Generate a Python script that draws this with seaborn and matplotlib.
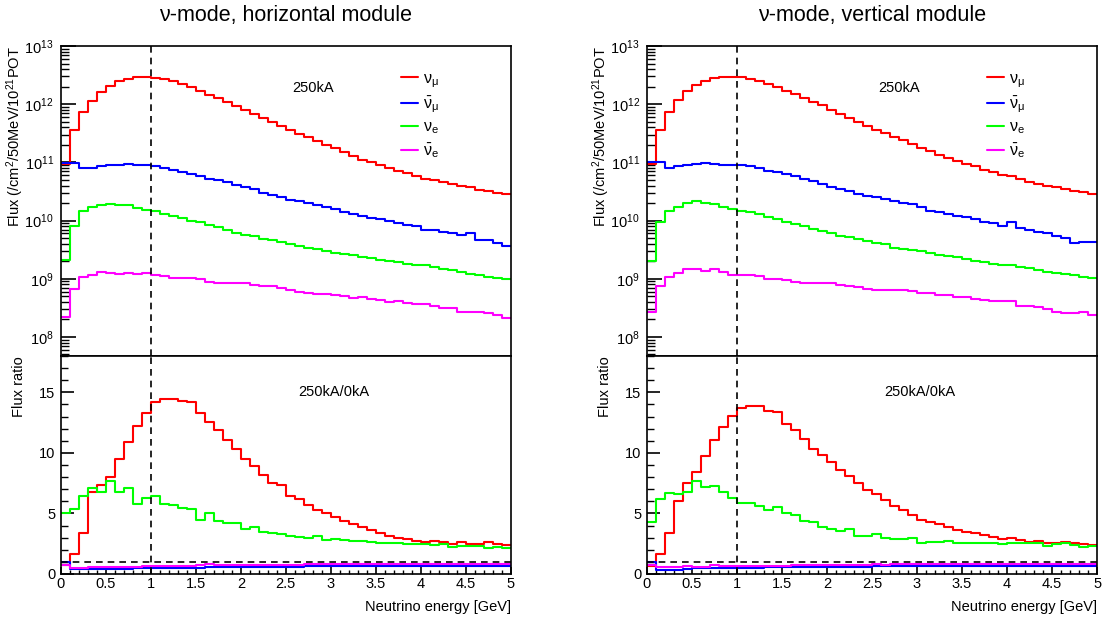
import numpy as np
import pandas as pd
import seaborn as sns
import matplotlib.pyplot as plt
from matplotlib.ticker import (MultipleLocator, LogLocator, LogFormatterMathtext,
                               FormatStrFormatter, NullFormatter)

# 50 energy bins of 0.1 GeV
bin_edges = np.linspace(0, 5, 51)
bin_centers = 0.5 * (bin_edges[:-1] + bin_edges[1:])

flavour_labels = [r'$\nu_{\mu}$', r'$\bar{\nu}_{\mu}$', r'$\nu_{e}$', r'$\bar{\nu}_{e}$']
flavour_colors = ['#ff0000', '#0000ff', '#00ff00', '#ff00ff']

# log10(flux), horizontal module
hor_numu_log = [10.98, 11.55, 11.86, 12.06, 12.21, 12.31, 12.39, 12.43, 12.46, 12.46,
                12.45, 12.43, 12.39, 12.34, 12.29, 12.23, 12.16, 12.10, 12.04, 11.97,
                11.90, 11.83, 11.76, 11.69, 11.62, 11.55, 11.49, 11.43, 11.37, 11.30,
                11.24, 11.18, 11.11, 11.04, 11.00, 10.95, 10.90, 10.85, 10.82, 10.76,
                10.72, 10.69, 10.66, 10.62, 10.59, 10.58, 10.53, 10.50, 10.47, 10.46]
hor_numubar_log = [10.99, 10.99, 10.90, 10.91, 10.93, 10.95, 10.96, 10.97, 10.96, 10.95,
                   10.93, 10.90, 10.87, 10.83, 10.80, 10.76, 10.72, 10.69, 10.66, 10.61,
                   10.58, 10.54, 10.48, 10.44, 10.40, 10.36, 10.34, 10.30, 10.27, 10.24,
                   10.20, 10.14, 10.11, 10.08, 10.04, 10.02, 9.99, 9.96, 9.93, 9.90,
                   9.84, 9.83, 9.80, 9.78, 9.75, 9.78, 9.66, 9.66, 9.62, 9.57]
hor_nue_log = [9.33, 9.91, 10.16, 10.24, 10.27, 10.28, 10.27, 10.26, 10.22, 10.19,
               10.16, 10.12, 10.08, 10.04, 10.00, 9.97, 9.93, 9.89, 9.84, 9.79,
               9.75, 9.73, 9.68, 9.67, 9.63, 9.59, 9.56, 9.53, 9.51, 9.48,
               9.44, 9.43, 9.40, 9.37, 9.35, 9.33, 9.31, 9.29, 9.26, 9.23,
               9.23, 9.20, 9.17, 9.15, 9.12, 9.08, 9.06, 9.03, 9.02, 8.99]
hor_nuebar_log = [8.35, 8.83, 9.03, 9.07, 9.12, 9.10, 9.08, 9.10, 9.08, 9.10,
                  9.06, 9.04, 9.02, 9.02, 9.02, 8.99, 8.94, 8.93, 8.92, 8.92,
                  8.92, 8.89, 8.87, 8.87, 8.84, 8.80, 8.77, 8.76, 8.74, 8.73,
                  8.72, 8.70, 8.67, 8.68, 8.66, 8.63, 8.60, 8.62, 8.59, 8.56,
                  8.56, 8.53, 8.50, 8.50, 8.43, 8.43, 8.43, 8.41, 8.37, 8.32]

# log10(flux), vertical module
ver_numu_log = [10.98, 11.56, 11.87, 12.07, 12.23, 12.33, 12.40, 12.45, 12.46, 12.47,
                12.46, 12.44, 12.39, 12.34, 12.29, 12.23, 12.17, 12.10, 12.04, 11.98,
                11.90, 11.83, 11.76, 11.70, 11.63, 11.56, 11.51, 11.44, 11.38, 11.31,
                11.24, 11.19, 11.13, 11.07, 11.02, 10.97, 10.93, 10.87, 10.83, 10.79,
                10.76, 10.72, 10.67, 10.63, 10.60, 10.57, 10.54, 10.51, 10.49, 10.46]
ver_numubar_log = [11.00, 11.00, 10.91, 10.94, 10.95, 10.98, 10.99, 10.98, 10.96, 10.95,
                   10.95, 10.93, 10.90, 10.86, 10.83, 10.80, 10.76, 10.72, 10.68, 10.62,
                   10.58, 10.54, 10.50, 10.46, 10.43, 10.40, 10.37, 10.33, 10.30, 10.28,
                   10.24, 10.17, 10.15, 10.12, 10.08, 10.06, 10.03, 9.97, 9.95, 9.90,
                   9.98, 9.87, 9.83, 9.80, 9.79, 9.73, 9.70, 9.62, 9.64, 9.63]
ver_nue_log = [9.30, 9.97, 10.17, 10.24, 10.30, 10.33, 10.30, 10.29, 10.24, 10.20,
               10.17, 10.14, 10.11, 10.06, 10.02, 9.98, 9.94, 9.90, 9.86, 9.82,
               9.78, 9.74, 9.71, 9.68, 9.65, 9.62, 9.59, 9.53, 9.51, 9.50,
               9.48, 9.45, 9.40, 9.39, 9.37, 9.34, 9.31, 9.29, 9.26, 9.24,
               9.23, 9.20, 9.18, 9.15, 9.12, 9.10, 9.08, 9.06, 9.03, 9.02]
ver_nuebar_log = [8.43, 8.87, 9.03, 9.10, 9.17, 9.16, 9.14, 9.16, 9.11, 9.06,
                  9.06, 9.06, 9.04, 9.00, 9.00, 8.97, 8.95, 8.93, 8.93, 8.92,
                  8.92, 8.90, 8.88, 8.86, 8.82, 8.80, 8.80, 8.81, 8.80, 8.79,
                  8.76, 8.75, 8.72, 8.72, 8.69, 8.68, 8.66, 8.64, 8.62, 8.62,
                  8.62, 8.53, 8.53, 8.52, 8.48, 8.43, 8.41, 8.41, 8.43, 8.37]

# flux ratio 250kA/0kA, horizontal module
hor_numu_ratio = [0.75, 1.63, 3.36, 6.81, 7.36, 8.05, 9.51, 10.86, 12.24, 13.29,
                  14.17, 14.45, 14.45, 14.31, 14.17, 13.29, 12.54, 11.86, 11.08, 10.34,
                  9.51, 8.93, 8.19, 7.50, 7.36, 6.48, 6.20, 5.71, 5.29, 5.02,
                  4.74, 4.38, 4.11, 3.92, 3.64, 3.36, 3.17, 3.01, 2.89, 2.76,
                  2.67, 2.76, 2.67, 2.45, 2.62, 2.45, 2.45, 2.62, 2.45, 2.40]
hor_numubar_ratio = [0.97, 0.40, 0.40, 0.41, 0.42, 0.43, 0.44, 0.45, 0.46, 0.47,
                     0.48, 0.49, 0.50, 0.51, 0.52, 0.53, 0.54, 0.55, 0.56, 0.57,
                     0.58, 0.58, 0.59, 0.60, 0.60, 0.61, 0.61, 0.62, 0.62, 0.63,
                     0.63, 0.63, 0.64, 0.64, 0.64, 0.65, 0.64, 0.65, 0.65, 0.66,
                     0.65, 0.66, 0.66, 0.67, 0.66, 0.67, 0.62, 0.67, 0.67, 0.68]
hor_nue_ratio = [5.07, 5.35, 6.48, 7.06, 6.73, 7.72, 6.73, 7.09, 5.79, 6.26,
                 6.40, 5.79, 5.71, 5.49, 5.38, 4.47, 5.07, 4.41, 4.19, 4.19,
                 3.72, 3.92, 3.50, 3.42, 3.28, 3.17, 3.09, 2.95, 3.14, 2.81,
                 2.87, 2.81, 2.76, 2.73, 2.62, 2.59, 2.59, 2.54, 2.48, 2.45,
                 2.45, 2.40, 2.45, 2.26, 2.32, 2.34, 2.32, 2.12, 2.26, 2.18]
hor_nuebar_ratio = [0.74, 0.52, 0.53, 0.55, 0.56, 0.58, 0.58, 0.60, 0.61, 0.62,
                    0.63, 0.64, 0.66, 0.67, 0.68, 0.72, 0.80, 0.74, 0.74, 0.75,
                    0.76, 0.76, 0.77, 0.77, 0.78, 0.78, 0.78, 0.79, 0.79, 0.80,
                    0.79, 0.80, 0.80, 0.81, 0.80, 0.81, 0.81, 0.82, 0.81, 0.82,
                    0.82, 0.82, 0.83, 0.82, 0.83, 0.83, 0.84, 0.83, 0.84, 0.84]

# flux ratio 250kA/0kA, vertical module
ver_numu_ratio = [0.70, 1.63, 3.36, 6.04, 7.55, 8.41, 9.76, 11.08, 12.10, 13.01,
                  13.70, 13.84, 13.84, 13.48, 13.40, 12.41, 11.91, 11.14, 10.34, 9.84,
                  9.24, 8.55, 8.11, 7.55, 6.95, 6.62, 6.07, 5.62, 5.29, 4.88,
                  4.47, 4.27, 4.14, 3.92, 3.64, 3.50, 3.36, 3.23, 3.09, 2.87,
                  2.95, 2.81, 2.67, 2.76, 2.59, 2.54, 2.67, 2.54, 2.48, 2.40]
ver_numubar_ratio = [1.00, 0.35, 0.33, 0.36, 0.45, 0.47, 0.48, 0.49, 0.50, 0.51,
                     0.52, 0.52, 0.53, 0.54, 0.55, 0.55, 0.56, 0.57, 0.58, 0.59,
                     0.60, 0.60, 0.60, 0.61, 0.61, 0.62, 0.62, 0.63, 0.62, 0.63,
                     0.63, 0.64, 0.64, 0.65, 0.64, 0.65, 0.65, 0.66, 0.65, 0.66,
                     0.70, 0.66, 0.67, 0.66, 0.67, 0.68, 0.67, 0.66, 0.68, 0.68]
ver_nue_ratio = [4.27, 6.20, 6.67, 6.59, 6.73, 7.69, 7.17, 7.28, 6.81, 6.31,
                 5.85, 5.85, 5.62, 5.29, 5.51, 5.07, 4.88, 4.41, 4.33, 3.92,
                 3.69, 3.56, 3.69, 3.17, 3.14, 3.31, 2.95, 2.87, 2.87, 3.01,
                 2.59, 2.67, 2.67, 2.73, 2.54, 2.59, 2.59, 2.59, 2.54, 2.48,
                 2.54, 2.59, 2.59, 2.54, 2.34, 2.45, 2.59, 2.40, 2.21, 2.34]
ver_nuebar_ratio = [0.75, 0.55, 0.55, 0.56, 0.70, 0.60, 0.61, 0.75, 0.63, 0.64,
                    0.66, 0.67, 0.68, 0.69, 0.70, 0.70, 0.71, 0.72, 0.73, 0.74,
                    0.78, 0.75, 0.76, 0.77, 0.78, 0.79, 0.77, 0.79, 0.80, 0.80,
                    0.79, 0.81, 0.80, 0.81, 0.82, 0.81, 0.82, 0.83, 0.82, 0.82,
                    0.85, 0.83, 0.83, 0.84, 0.83, 0.84, 0.85, 0.84, 0.85, 0.85]

sns.set_style('ticks')
plt.rcParams['font.family'] = ['Liberation Sans', 'DejaVu Sans']
plt.rcParams['mathtext.fontset'] = 'custom'
plt.rcParams['mathtext.rm'] = 'Liberation Sans'
plt.rcParams['mathtext.it'] = 'Liberation Sans:italic'
plt.rcParams['mathtext.bf'] = 'Liberation Sans:bold'
plt.rcParams['mathtext.default'] = 'regular'
plt.rcParams['axes.linewidth'] = 1.2
for key in ['text.color', 'axes.labelcolor', 'axes.edgecolor', 'xtick.color', 'ytick.color']:
    plt.rcParams[key] = 'black'

fig = plt.figure(figsize=(11.08, 6.2), dpi=100)

dash = (0, (4, 3))


def step_hist(ax, vals, color):
    df = pd.DataFrame({'energy': bin_centers, 'value': vals})
    sns.histplot(data=df, x='energy', weights='value', binwidth=0.1, binrange=(0, 5),
                 element='step', fill=False, color=color, linewidth=1.5, ax=ax)


def draw_module(left, flux_logs, ratios, title):
    ax_f = fig.add_axes([left, 0.4258, 0.4064, 0.5])
    ax_r = fig.add_axes([left, 0.0742, 0.4064, 0.3516])

    # flux panel
    ax_f.set_yscale('log')
    for vals, col in zip(flux_logs, flavour_colors):
        step_hist(ax_f, 10 ** np.array(vals), col)
    handles = list(ax_f.lines[:4])
    ax_f.axvline(1.0, color='black', ls=dash, lw=1.2)
    ax_f.set_xlim(0, 5)
    ax_f.set_ylim(4.7e7, 1e13)
    ax_f.yaxis.set_major_locator(LogLocator(base=10, numticks=20))
    ax_f.yaxis.set_minor_locator(LogLocator(base=10, subs=np.arange(2, 10), numticks=20))
    ax_f.yaxis.set_major_formatter(LogFormatterMathtext())
    ax_f.yaxis.set_minor_formatter(NullFormatter())
    ax_f.tick_params(axis='y', which='major', direction='in', length=11, width=1.2,
                     labelsize=10.5, pad=5)
    ax_f.tick_params(axis='y', which='minor', direction='in', length=6, width=1.0)
    ax_f.tick_params(axis='x', which='both', length=0, labelbottom=False)
    ax_f.set_xlabel('')
    ax_f.set_ylabel('Flux (/cm$^{2}$/50MeV/10$^{21}$POT', fontsize=10.5, loc='top')
    ax_f.yaxis.set_label_coords(-0.077, 1.0)
    ax_f.text(0.514, 0.865, '250kA', transform=ax_f.transAxes, fontsize=10.5,
              va='center', ha='left')
    ax_f.legend(handles, flavour_labels, loc='upper left', bbox_to_anchor=(0.755, 0.92),
                frameon=False, fontsize=11.5, handlelength=1.1, handletextpad=0.3,
                labelspacing=0.3, borderaxespad=0, borderpad=0)

    # ratio panel
    for vals, col in zip(ratios, flavour_colors):
        step_hist(ax_r, vals, col)
    ax_r.axvline(1.0, color='black', ls=dash, lw=1.2)
    ax_r.axhline(1.0, color='black', ls=dash, lw=1.2)
    ax_r.set_xlim(0, 5)
    ax_r.set_ylim(0, 18)
    ax_r.xaxis.set_major_locator(MultipleLocator(0.5))
    ax_r.xaxis.set_minor_locator(MultipleLocator(0.1))
    ax_r.xaxis.set_major_formatter(FormatStrFormatter('%g'))
    ax_r.yaxis.set_major_locator(MultipleLocator(5))
    ax_r.yaxis.set_minor_locator(MultipleLocator(1))
    ax_r.tick_params(axis='x', which='major', direction='in', length=5, width=1.2,
                     labelsize=10.5, pad=2)
    ax_r.tick_params(axis='x', which='minor', direction='in', length=3, width=1.0)
    ax_r.tick_params(axis='y', which='major', direction='in', length=9, width=1.2,
                     labelsize=10.5, pad=4)
    ax_r.tick_params(axis='y', which='minor', direction='in', length=5, width=1.0)
    ax_r.set_ylabel('Flux ratio', fontsize=10.5, loc='top')
    ax_r.yaxis.set_label_coords(-0.077, 1.0)
    ax_r.set_xlabel('Neutrino energy [GeV]', fontsize=10.5, loc='right')
    ax_r.xaxis.set_label_coords(1.0, -0.119)
    ax_r.text(0.527, 0.835, '250kA/0kA', transform=ax_r.transAxes, fontsize=10.5,
              va='center', ha='left')

    fig.text(left + 0.2032, 1 - 16 / 620, title, fontsize=15.5, ha='center', va='center')


draw_module(0.0548,
            [hor_numu_log, hor_numubar_log, hor_nue_log, hor_nuebar_log],
            [hor_numu_ratio, hor_numubar_ratio, hor_nue_ratio, hor_nuebar_ratio],
            'ν-mode, horizontal module')
draw_module(0.5837,
            [ver_numu_log, ver_numubar_log, ver_nue_log, ver_nuebar_log],
            [ver_numu_ratio, ver_numubar_ratio, ver_nue_ratio, ver_nuebar_ratio],
            'ν-mode, vertical module')

fig.savefig('out.png', dpi=100)
